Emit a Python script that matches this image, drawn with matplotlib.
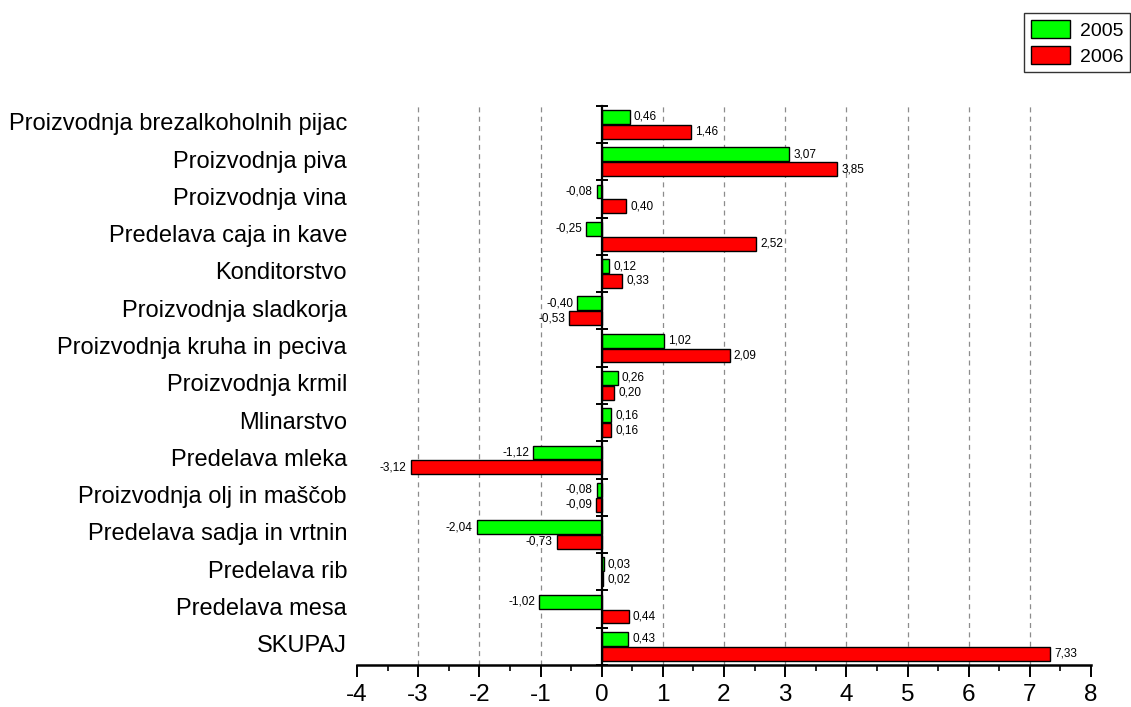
import matplotlib
matplotlib.use("Agg")
import matplotlib.pyplot as plt
import matplotlib.transforms as mtransforms
import numpy as np

categories = [
    "Proizvodnja brezalkoholnih pijac",
    "Proizvodnja piva",
    "Proizvodnja vina",
    "Predelava caja in kave",
    "Konditorstvo",
    "Proizvodnja sladkorja",
    "Proizvodnja kruha in peciva",
    "Proizvodnja krmil",
    "Mlinarstvo",
    "Predelava mleka",
    "Proizvodnja olj in maščob",
    "Predelava sadja in vrtnin",
    "Predelava rib",
    "Predelava mesa",
    "SKUPAJ",
]
values_2005 = [0.46, 3.07, -0.08, -0.25, 0.12, -0.40, 1.02, 0.26, 0.16, -1.12, -0.08, -2.04, 0.03, -1.02, 0.43]
values_2006 = [1.46, 3.85, 0.40, 2.52, 0.33, -0.53, 2.09, 0.20, 0.16, -3.12, -0.09, -0.73, 0.02, 0.44, 7.33]
series_names = ["2005", "2006"]
x_ticks = [-4, -3, -2, -1, 0, 1, 2, 3, 4, 5, 6, 7, 8]

plt.rcParams['font.family'] = ['Liberation Sans', 'DejaVu Sans']
plt.rcParams['axes.unicode_minus'] = False

fig = plt.figure(figsize=(11.31, 7.07), dpi=100)
ax = fig.add_axes([357/1131, 42/707, (1091-357)/1131, (665-105.7)/707])

y = np.arange(len(categories))
h = 0.37
off = 0.2
b1 = ax.barh(y - off, values_2005, height=h, color='#00ff00', edgecolor='black', linewidth=1.0, label=series_names[0], zorder=3)
b2 = ax.barh(y + off, values_2006, height=h, color='#ff0000', edgecolor='black', linewidth=1.0, label=series_names[1], zorder=3)

def fmt(v):
    return f"{v:.2f}".replace('.', ',')

for bars, vals in ((b1, values_2005), (b2, values_2006)):
    for rect, v in zip(bars, vals):
        yc = rect.get_y() + rect.get_height() / 2
        if v >= 0:
            ax.annotate(fmt(v), (v, yc), xytext=(3, 0), textcoords='offset points',
                        ha='left', va='center', fontsize=8.5, zorder=4)
        else:
            ax.annotate(fmt(v), (v, yc), xytext=(-3, 0), textcoords='offset points',
                        ha='right', va='center', fontsize=8.5, zorder=4)

ax.set_xlim(x_ticks[0], x_ticks[-1])
ax.set_ylim(len(categories) - 0.5, -0.5)

# grid lines
for t in x_ticks[1:-1]:
    if t != 0:
        ax.axvline(t, color='#8c8c8c', linestyle=(0, (4, 3.5)), linewidth=0.9, zorder=1)

# spines
for s in ['top', 'right']:
    ax.spines[s].set_visible(False)
ax.spines['left'].set_position(('data', 0))
ax.spines['left'].set_linewidth(1.6)
ax.spines['left'].set_zorder(5)
ax.spines['bottom'].set_linewidth(1.8)

ax.set_xticks(x_ticks)
ax.set_xticks(np.arange(x_ticks[0], x_ticks[-1] + 0.01, 0.5), minor=True)
ax.tick_params(axis='x', which='major', direction='out', length=8.5, width=1.4, labelsize=17.5, pad=5)
ax.tick_params(axis='x', which='minor', direction='out', length=4.5, width=1.2)

ax.set_yticks(np.arange(-0.5, len(categories), 1.0))
ax.set_yticklabels([])
ax.tick_params(axis='y', which='major', direction='inout', length=9, width=1.4)
ax.tick_params(axis='y', which='minor', left=False)

trans = mtransforms.blended_transform_factory(ax.transAxes, ax.transData)
for i, c in enumerate(categories):
    ax.text(-10/734, i, c, transform=trans, ha='right', va='center', fontsize=17)

leg = fig.legend(handles=[b1, b2], labels=series_names, loc='upper right',
                 bbox_to_anchor=(1130/1131, 1 - 13/707), fontsize=14,
                 frameon=True, fancybox=False, borderaxespad=0,
                 handlelength=2.0, handleheight=1.1, handletextpad=0.5,
                 labelspacing=0.3, borderpad=0.35)
leg.get_frame().set_edgecolor('black')
leg.get_frame().set_linewidth(1.0)

fig.savefig('out.png', dpi=100)
